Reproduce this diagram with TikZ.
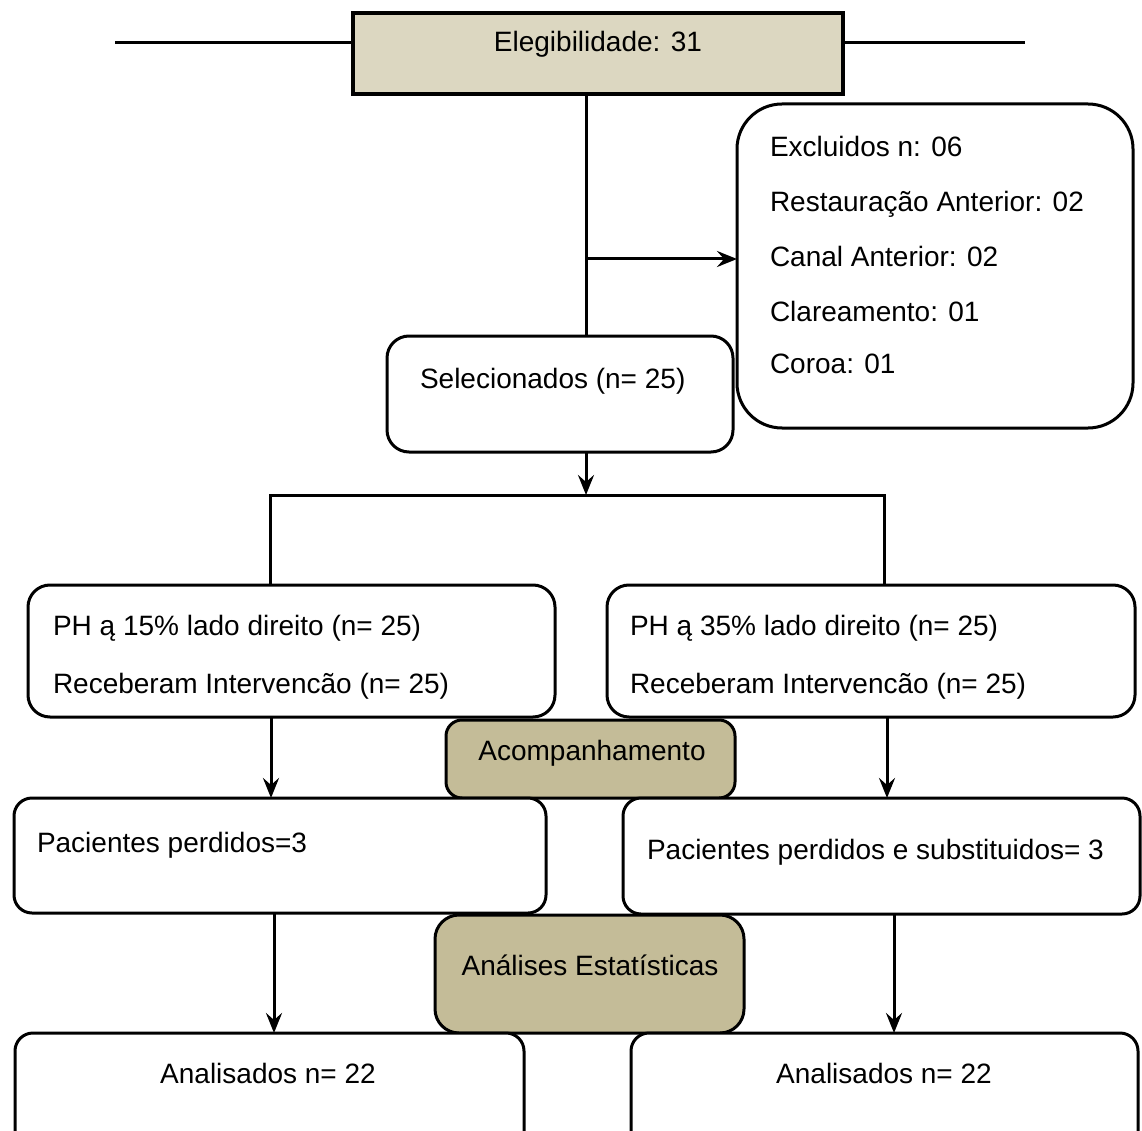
\documentclass[tikz,border=0pt]{standalone}
\usepackage{fontspec}
\setmainfont{Liberation Sans}
\usetikzlibrary{arrows.meta}
\definecolor{elegfill}{RGB}{220,215,193}
\definecolor{tanfill}{RGB}{196,188,152}
\tikzset{
  box/.style={draw=black, line width=3pt, fill=white, inner sep=0pt, outer sep=0pt, anchor=north west},
  rbox/.style={box, rounded corners=#1},
  rbox/.default=20pt,
  txt/.style={inner sep=0pt, outer sep=0pt, font=\fontsize{28}{32}\selectfont},
  conn/.style={line width=3pt, draw=black},
  arr/.style={conn, -{Stealth[length=20pt,width=16pt,inset=7pt]}}
}
\begin{document}
\begin{tikzpicture}[x=1pt,y=-1pt]
\useasboundingbox (0,0) rectangle (1142,1131);
% boxes
\node[box, fill=elegfill, line width=3.5pt, minimum width=490pt, minimum height=81pt] (eleg) at (353,13) {};
\node[rbox=45pt, minimum width=396pt, minimum height=324pt] (excl) at (737,104) {};
\node[rbox=22pt, minimum width=346pt, minimum height=116pt] (sel) at (387,336) {};
\node[rbox=22pt, minimum width=527pt, minimum height=132pt] (ph1) at (28,585) {};
\node[rbox=22pt, minimum width=528pt, minimum height=132pt] (ph2) at (607,585) {};
\node[rbox=16pt, fill=tanfill, minimum width=289pt, minimum height=78pt] (acomp) at (446,720) {};
\node[rbox=18pt, minimum width=532pt, minimum height=115pt] (pl) at (14,798) {};
\node[rbox=18pt, minimum width=517pt, minimum height=116pt] (pr) at (623,798) {};
\node[rbox=24pt, fill=tanfill, minimum width=309pt, minimum height=118pt] (anal) at (435,915) {};
\node[rbox=18pt, minimum width=509pt, minimum height=140pt] (al) at (15,1033) {};
\node[rbox=18pt, minimum width=507pt, minimum height=140pt] (ar) at (631,1033) {};
% texts
\node[txt, anchor=base] (telig) at (598,52) {Elegibilidade: 31};
\node[txt, anchor=base west] (tex1) at (770,157) {Excluidos n: 06};
\node[txt, anchor=base west] (tex2) at (770,212) {Restauração Anterior: 02};
\node[txt, anchor=base west] (tex3) at (770,267) {Canal Anterior: 02};
\node[txt, anchor=base west] (tex4) at (770,322) {Clareamento: 01};
\node[txt, anchor=base west] (tex5) at (770,373) {Coroa: 01};
\node[txt, anchor=base west] (tsel) at (420,388) {Selecionados (n= 25)};
\node[txt, anchor=base west] (tph1a) at (53,635) {PH ą 15\% lado direito (n= 25)};
\node[txt, anchor=base west] (tph1b) at (53,693) {Receberam Intervencão (n= 25)};
\node[txt, anchor=base west] (tph2a) at (630,635) {PH ą 35\% lado direito (n= 25)};
\node[txt, anchor=base west] (tph2b) at (630,693) {Receberam Intervencão (n= 25)};
\node[txt, anchor=base] (tacomp) at (592,760) {Acompanhamento};
\node[txt, anchor=base west] (tpl) at (37,852) {Pacientes perdidos=3};
\node[txt, anchor=base west] (tpr) at (647,859) {Pacientes perdidos e substituidos= 3};
\node[txt, anchor=base] (tanal) at (590,975) {Análises Estatísticas};
\node[txt, anchor=base] (tal) at (268,1083) {Analisados n= 22};
\node[txt, anchor=base] (tar) at (884,1083) {Analisados n= 22};
% helper coordinates
\coordinate (hl) at (115,43);
\coordinate (hr) at (1025,43);
\coordinate (spine) at (586,0);
\coordinate (ex) at (586,259);
\coordinate (split) at (586,495);
\coordinate (sl) at (270,495);
\coordinate (sr) at (884,495);
\coordinate (c1) at (271,0);
\coordinate (c2) at (887,0);
\coordinate (c3) at (274,0);
\coordinate (c4) at (894,0);
% connectors
\draw[conn] (hl) -- (hl -| eleg.west);
\draw[conn] (eleg.east |- hr) -- (hr);
\draw[conn] (spine |- eleg.south) -- (spine |- sel.north);
\draw[arr] (ex) -- (ex -| excl.west);
\draw[arr] (spine |- sel.south) -- (split);
\draw[conn] (sl |- ph1.north) -- (sl) -- (sr) -- (sr |- ph2.north);
\draw[arr] (c1 |- ph1.south) -- (c1 |- pl.north);
\draw[arr] (c2 |- ph2.south) -- (c2 |- pr.north);
\draw[arr] (c3 |- pl.south) -- (c3 |- al.north);
\draw[arr] (c4 |- pr.south) -- (c4 |- ar.north);
\end{tikzpicture}
\end{document}
